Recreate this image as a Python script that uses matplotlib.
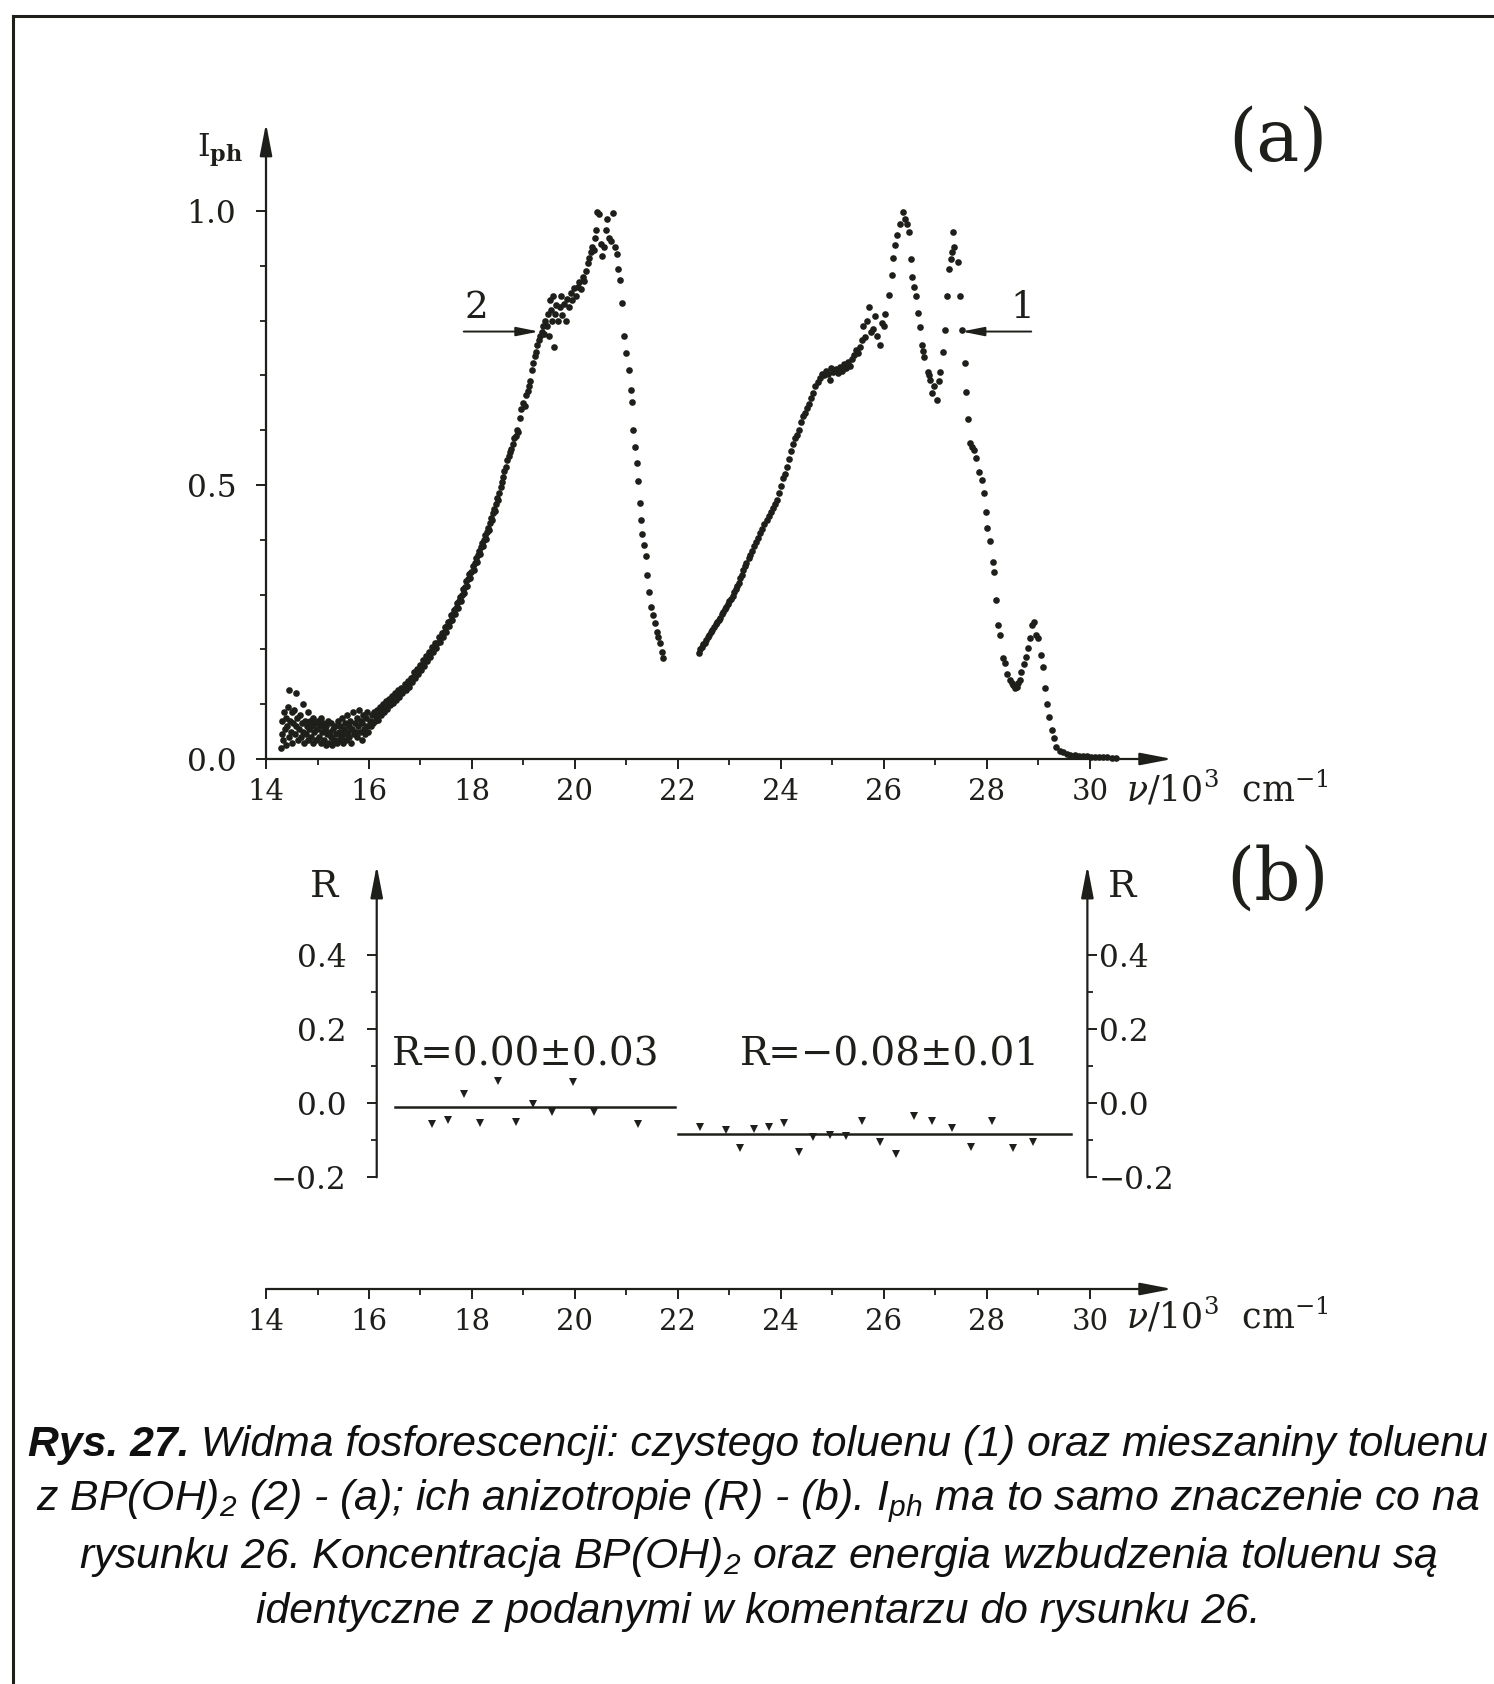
import matplotlib
matplotlib.use('Agg')
import matplotlib.pyplot as plt
from matplotlib.lines import Line2D
from matplotlib.ticker import FixedLocator

plt.rcParams['font.family'] = 'DejaVu Serif'
plt.rcParams['mathtext.fontset'] = 'custom'
plt.rcParams['mathtext.rm'] = 'Liberation Sans:italic'
plt.rcParams['mathtext.it'] = 'Liberation Sans:italic'
plt.rcParams['mathtext.bf'] = 'Liberation Sans:bold:italic'

INK = '#1e1e1a'

# ---- panel (a): phosphorescence spectra ----
# curve 2 : toluene + BP(OH)2
c2_x = [14.30, 14.31, 14.32, 14.33, 14.35, 14.36, 14.38, 14.39, 14.41, 14.42, 14.44, 14.45, 14.47, 14.48, 14.50,
        14.51, 14.53, 14.55, 14.56, 14.58, 14.59, 14.61, 14.62, 14.64, 14.66, 14.67, 14.69, 14.71, 14.72, 14.74,
        14.76, 14.77, 14.79, 14.81, 14.82, 14.84, 14.86, 14.87, 14.89, 14.91, 14.92, 14.94, 14.96, 14.97, 14.99,
        15.01, 15.02, 15.04, 15.06, 15.07, 15.09, 15.11, 15.12, 15.14, 15.16, 15.17, 15.19, 15.21, 15.22, 15.24,
        15.26, 15.27, 15.29, 15.31, 15.32, 15.34, 15.36, 15.37, 15.39, 15.41, 15.42, 15.44, 15.46, 15.47, 15.49,
        15.51, 15.52, 15.54, 15.56, 15.57, 15.59, 15.61, 15.62, 15.64, 15.66, 15.67, 15.69, 15.71, 15.72, 15.74,
        15.76, 15.77, 15.79, 15.81, 15.82, 15.84, 15.86, 15.87, 15.89, 15.91, 15.92, 15.94, 15.96, 15.97, 15.99,
        16.01, 16.03, 16.05, 16.07, 16.09, 16.11, 16.13, 16.15, 16.17, 16.19, 16.21, 16.23, 16.25, 16.27, 16.29,
        16.31, 16.33, 16.35, 16.37, 16.39, 16.41, 16.43, 16.45, 16.47, 16.49, 16.51, 16.53, 16.55, 16.57, 16.59,
        16.61, 16.63, 16.65, 16.67, 16.69, 16.71, 16.73, 16.75, 16.77, 16.79, 16.81, 16.83, 16.85, 16.87, 16.89,
        16.91, 16.93, 16.95, 16.97, 16.99, 17.01, 17.03, 17.05, 17.07, 17.09, 17.11, 17.13, 17.15, 17.17, 17.19,
        17.21, 17.23, 17.25, 17.27, 17.29, 17.31, 17.33, 17.35, 17.37, 17.39, 17.41, 17.43, 17.45, 17.47, 17.49,
        17.51, 17.53, 17.55, 17.57, 17.59, 17.61, 17.63, 17.65, 17.67, 17.69, 17.71, 17.73, 17.75, 17.77, 17.79,
        17.81, 17.83, 17.85, 17.87, 17.89, 17.91, 17.93, 17.95, 17.97, 17.99, 18.01, 18.03, 18.05, 18.07, 18.09,
        18.11, 18.13, 18.15, 18.17, 18.19, 18.21, 18.23, 18.25, 18.27, 18.29, 18.31, 18.33, 18.35, 18.37, 18.39,
        18.41, 18.43, 18.45, 18.47, 18.49, 18.51, 18.53, 18.56, 18.58, 18.61, 18.63, 18.66, 18.68, 18.71, 18.73,
        18.76, 18.79, 18.82, 18.85, 18.88, 18.90, 18.93, 18.96, 18.99, 19.02, 19.05, 19.08, 19.11, 19.13, 19.16,
        19.19, 19.22, 19.25, 19.27, 19.30, 19.33, 19.35, 19.38, 19.40, 19.42, 19.45, 19.47, 19.49, 19.51, 19.53,
        19.55, 19.58, 19.60, 19.62, 19.64, 19.67, 19.70, 19.72, 19.75, 19.78, 19.82, 19.85, 19.88, 19.92, 19.95,
        19.98, 20.02, 20.05, 20.08, 20.12, 20.15, 20.18, 20.22, 20.25, 20.28, 20.31, 20.34, 20.37, 20.39, 20.41,
        20.43, 20.46, 20.50, 20.53, 20.56, 20.60, 20.63, 20.66, 20.70, 20.74, 20.77, 20.81, 20.84, 20.87, 20.91,
        20.95, 21.00, 21.04, 21.08, 21.10, 21.13, 21.17, 21.20, 21.23, 21.26, 21.28, 21.31, 21.34, 21.37, 21.39,
        21.43, 21.48, 21.52, 21.55, 21.59, 21.62, 21.65, 21.68, 21.70]
c2_y = [0.020, 0.045, 0.070, 0.035, 0.085, 0.055, 0.025, 0.075, 0.060, 0.095, 0.125, 0.040, 0.070, 0.050, 0.085,
        0.030, 0.065, 0.090, 0.045, 0.120, 0.060, 0.075, 0.035, 0.055, 0.080, 0.040, 0.065, 0.100, 0.050, 0.030,
        0.070, 0.045, 0.060, 0.085, 0.035, 0.055, 0.070, 0.040, 0.060, 0.030, 0.075, 0.050, 0.065, 0.035, 0.055,
        0.070, 0.040, 0.060, 0.030, 0.075, 0.050, 0.065, 0.035, 0.055, 0.025, 0.060, 0.045, 0.070, 0.030, 0.050,
        0.040, 0.065, 0.025, 0.055, 0.035, 0.060, 0.045, 0.030, 0.070, 0.050, 0.035, 0.060, 0.040, 0.075, 0.030,
        0.055, 0.045, 0.065, 0.035, 0.080, 0.050, 0.060, 0.040, 0.070, 0.030, 0.055, 0.085, 0.045, 0.065, 0.050,
        0.075, 0.040, 0.060, 0.090, 0.050, 0.070, 0.035, 0.065, 0.080, 0.055, 0.045, 0.075, 0.060, 0.085, 0.050,
        0.070, 0.060, 0.080, 0.065, 0.085, 0.070, 0.078, 0.090, 0.072, 0.085, 0.095, 0.080, 0.090, 0.100, 0.085,
        0.095, 0.105, 0.092, 0.100, 0.110, 0.098, 0.105, 0.115, 0.102, 0.110, 0.120, 0.108, 0.116, 0.125, 0.114,
        0.122, 0.130, 0.120, 0.128, 0.136, 0.126, 0.134, 0.142, 0.132, 0.140, 0.148, 0.140, 0.150, 0.158, 0.148,
        0.156, 0.165, 0.155, 0.164, 0.172, 0.162, 0.172, 0.180, 0.170, 0.178, 0.188, 0.178, 0.186, 0.196, 0.186,
        0.195, 0.204, 0.195, 0.204, 0.212, 0.203, 0.212, 0.222, 0.213, 0.222, 0.230, 0.222, 0.232, 0.240, 0.232,
        0.242, 0.250, 0.242, 0.252, 0.262, 0.254, 0.264, 0.272, 0.264, 0.275, 0.284, 0.276, 0.288, 0.296, 0.288,
        0.300, 0.310, 0.302, 0.314, 0.324, 0.316, 0.328, 0.338, 0.330, 0.342, 0.352, 0.345, 0.358, 0.366, 0.360,
        0.372, 0.380, 0.374, 0.386, 0.394, 0.388, 0.400, 0.408, 0.402, 0.414, 0.422, 0.418, 0.430, 0.440, 0.436,
        0.448, 0.456, 0.452, 0.466, 0.476, 0.472, 0.486, 0.496, 0.505, 0.515, 0.525, 0.532, 0.545, 0.552, 0.560,
        0.565, 0.575, 0.585, 0.590, 0.600, 0.596, 0.622, 0.638, 0.650, 0.645, 0.665, 0.672, 0.680, 0.690, 0.710,
        0.722, 0.735, 0.742, 0.755, 0.765, 0.772, 0.780, 0.790, 0.776, 0.800, 0.790, 0.812, 0.772, 0.838, 0.820,
        0.800, 0.845, 0.752, 0.812, 0.828, 0.800, 0.825, 0.845, 0.810, 0.830, 0.800, 0.840, 0.825, 0.850, 0.838,
        0.860, 0.845, 0.862, 0.870, 0.858, 0.880, 0.872, 0.890, 0.905, 0.915, 0.925, 0.935, 0.928, 0.950, 0.965,
        0.999, 0.995, 0.940, 0.918, 0.935, 0.965, 0.985, 0.950, 0.945, 0.996, 0.935, 0.922, 0.895, 0.874, 0.832,
        0.771, 0.740, 0.710, 0.673, 0.652, 0.600, 0.570, 0.540, 0.507, 0.467, 0.436, 0.410, 0.390, 0.370, 0.336,
        0.305, 0.278, 0.262, 0.248, 0.232, 0.222, 0.211, 0.196, 0.184]

# curve 1 : pure toluene
c1_x = [22.40, 22.43, 22.46, 22.49, 22.52, 22.55, 22.58, 22.61, 22.64, 22.67, 22.70, 22.73, 22.76, 22.79, 22.82,
        22.85, 22.88, 22.91, 22.94, 22.97, 23.00, 23.03, 23.06, 23.09, 23.12, 23.15, 23.18, 23.21, 23.24, 23.27,
        23.30, 23.33, 23.37, 23.40, 23.44, 23.48, 23.52, 23.56, 23.60, 23.64, 23.68, 23.72, 23.76, 23.80, 23.84,
        23.88, 23.92, 23.96, 24.00, 24.04, 24.08, 24.12, 24.16, 24.19, 24.23, 24.27, 24.31, 24.35, 24.39, 24.43,
        24.47, 24.51, 24.55, 24.59, 24.63, 24.67, 24.71, 24.75, 24.79, 24.83, 24.87, 24.91, 24.95, 24.98, 25.02,
        25.06, 25.10, 25.14, 25.18, 25.22, 25.26, 25.30, 25.34, 25.38, 25.42, 25.46, 25.50, 25.54, 25.58, 25.60,
        25.64, 25.68, 25.70, 25.74, 25.79, 25.83, 25.87, 25.92, 25.96, 26.00, 26.02, 26.10, 26.15, 26.18, 26.21,
        26.26, 26.31, 26.37, 26.40, 26.44, 26.49, 26.52, 26.55, 26.59, 26.62, 26.66, 26.70, 26.73, 26.76, 26.78,
        26.85, 26.88, 26.89, 26.94, 26.98, 27.03, 27.06, 27.09, 27.14, 27.18, 27.22, 27.26, 27.31, 27.33, 27.36,
        27.35, 27.44, 27.48, 27.51, 27.57, 27.59, 27.64, 27.68, 27.71, 27.74, 27.78, 27.85, 27.90, 27.94, 27.98,
        28.01, 28.06, 28.11, 28.14, 28.18, 28.21, 28.26, 28.32, 28.35, 28.39, 28.44, 28.48, 28.51, 28.55, 28.58,
        28.61, 28.64, 28.67, 28.71, 28.76, 28.80, 28.84, 28.87, 28.91, 28.96, 29.00, 29.05, 29.08, 29.13, 29.17,
        29.21, 29.26, 29.30, 29.35, 29.42, 29.48, 29.55, 29.62, 29.70, 29.78, 29.86, 29.94, 30.02, 30.10, 30.18,
        30.26, 30.34, 30.42, 30.50]
c1_y = [0.193, 0.200, 0.205, 0.210, 0.212, 0.218, 0.222, 0.226, 0.232, 0.236, 0.240, 0.246, 0.250, 0.254, 0.258,
        0.264, 0.268, 0.273, 0.278, 0.282, 0.288, 0.292, 0.298, 0.304, 0.310, 0.316, 0.322, 0.330, 0.336, 0.345,
        0.352, 0.358, 0.366, 0.372, 0.380, 0.388, 0.396, 0.404, 0.412, 0.420, 0.428, 0.436, 0.443, 0.450, 0.458,
        0.465, 0.472, 0.485, 0.498, 0.512, 0.520, 0.533, 0.548, 0.562, 0.575, 0.585, 0.592, 0.600, 0.615, 0.625,
        0.632, 0.640, 0.648, 0.658, 0.668, 0.680, 0.688, 0.695, 0.702, 0.700, 0.708, 0.702, 0.692, 0.713, 0.706,
        0.712, 0.704, 0.716, 0.708, 0.720, 0.714, 0.724, 0.718, 0.730, 0.738, 0.746, 0.740, 0.752, 0.765, 0.790,
        0.770, 0.800, 0.825, 0.780, 0.785, 0.808, 0.772, 0.756, 0.795, 0.790, 0.812, 0.847, 0.883, 0.914, 0.938,
        0.956, 0.977, 0.999, 0.985, 0.977, 0.962, 0.912, 0.880, 0.862, 0.844, 0.813, 0.789, 0.755, 0.745, 0.734,
        0.707, 0.700, 0.691, 0.667, 0.680, 0.656, 0.690, 0.707, 0.743, 0.783, 0.845, 0.895, 0.913, 0.925, 0.935,
        0.962, 0.907, 0.845, 0.783, 0.722, 0.670, 0.621, 0.576, 0.570, 0.563, 0.549, 0.524, 0.509, 0.485, 0.451,
        0.421, 0.397, 0.360, 0.342, 0.290, 0.245, 0.226, 0.184, 0.176, 0.156, 0.145, 0.138, 0.135, 0.130, 0.132,
        0.138, 0.145, 0.159, 0.174, 0.186, 0.202, 0.220, 0.245, 0.250, 0.226, 0.220, 0.190, 0.168, 0.129, 0.101,
        0.077, 0.053, 0.038, 0.022, 0.015, 0.012, 0.010, 0.008, 0.007, 0.006, 0.005, 0.005, 0.004, 0.004, 0.003,
        0.003, 0.003, 0.002, 0.002]

# ---- panel (b): anisotropy R ----
r2_x = [17.22, 17.53, 17.85, 18.16, 18.50, 18.85, 19.19, 19.56, 19.97, 20.37, 21.23]
r2_y = [-0.056, -0.045, 0.024, -0.054, 0.061, -0.050, -0.002, -0.023, 0.058, -0.023, -0.056]
r1_x = [22.43, 22.93, 23.21, 23.48, 23.77, 24.06, 24.35, 24.63, 24.95, 25.26, 25.58, 25.92, 26.23, 26.59,
        26.93, 27.33, 27.69, 28.09, 28.50, 28.90]
r1_y = [-0.065, -0.072, -0.120, -0.070, -0.063, -0.052, -0.131, -0.092, -0.086, -0.089, -0.047, -0.105,
        -0.136, -0.033, -0.047, -0.068, -0.119, -0.049, -0.121, -0.105]
# mean R levels: (x from, x to, R)
r2_mean = (16.50, 21.95, -0.010)
r1_mean = (22.00, 29.63, -0.083)

x_major = [14, 16, 18, 20, 22, 24, 26, 28, 30]
x_minor = [15, 17, 19, 21, 23, 25, 27, 29]
ia_major = [0.0, 0.5, 1.0]
ia_labels = ['0.0', '0.5', '1.0']
ia_minor = [0.1, 0.2, 0.3, 0.4, 0.6, 0.7, 0.8, 0.9]
r_major = [-0.2, 0.0, 0.2, 0.4]
r_labels = ['\u22120.2', '0.0', '0.2', '0.4']
r_minor = [-0.1, 0.1, 0.3]

caption_head = 'Rys. 27.'
caption = [
    ' Widma fosforescencji: czystego toluenu (1) oraz mieszaniny toluenu',
    r'z BP(OH)$_2$ (2) - (a); ich anizotropie (R) - (b). I$_{ph}$ ma to samo znaczenie co na',
    r'rysunku 26. Koncentracja BP(OH)$_2$ oraz energia wzbudzenia toluenu są',
    'identyczne z podanymi w komentarzu do rysunku 26.',
]


def arrow_line(ax, start, end, lw=1.6, hl=1.3, hw=0.25):
    ax.annotate('', xy=end, xytext=start, xycoords='data', annotation_clip=False,
                arrowprops=dict(arrowstyle='-|>,head_length=%s,head_width=%s' % (hl, hw),
                                color=INK, lw=lw, shrinkA=0, shrinkB=0, mutation_scale=15))


def style_ticks(ax):
    ax.tick_params(which='major', direction='out', length=7.5, width=1.4, colors=INK, labelsize=21)
    ax.tick_params(which='minor', direction='out', length=4.5, width=1.3, colors=INK)
    ax.tick_params(axis='y', which='major', labelsize=22.5)


fig = plt.figure(figsize=(14.94, 16.84), dpi=100)

# frame round the figure
fig.add_artist(Line2D([0.0087, 0.0087], [0.0, 0.9905], color=INK, lw=2.2, transform=fig.transFigure))
fig.add_artist(Line2D([0.0087, 1.0], [0.9905, 0.9905], color=INK, lw=2.2, transform=fig.transFigure))

# ---------------- panel (a)
ax_a = fig.add_axes([0.17805, 0.54929, 0.6101, 0.38074])
ax_a.set_xlim(14, 31.7)
ax_a.set_ylim(0, 1.17)
for s in ax_a.spines.values():
    s.set_visible(False)
ax_a.scatter(c2_x, c2_y, s=23, color=INK, linewidths=0, clip_on=False)
ax_a.scatter(c1_x, c1_y, s=23, color=INK, linewidths=0, clip_on=False)
arrow_line(ax_a, (14, 0), (31.6, 0))
arrow_line(ax_a, (14, 0), (14, 1.16))
ax_a.xaxis.set_major_locator(FixedLocator(x_major))
ax_a.xaxis.set_minor_locator(FixedLocator(x_minor))
ax_a.set_xticklabels([str(v) for v in x_major])
ax_a.yaxis.set_major_locator(FixedLocator(ia_major))
ax_a.yaxis.set_minor_locator(FixedLocator(ia_minor))
ax_a.set_yticklabels(ia_labels)
style_ticks(ax_a)
ax_a.tick_params(axis='y', which='major', pad=14)
ax_a.tick_params(axis='x', which='major', pad=6)

# curve labels
arrow_line(ax_a, (17.84, 0.78), (19.30, 0.78), lw=1.4, hl=0.9, hw=0.18)
arrow_line(ax_a, (28.86, 0.78), (27.51, 0.78), lw=1.4, hl=0.9, hw=0.18)
ax_a.text(18.08, 0.823, '2', fontsize=27, color=INK, ha='center', va='center')
ax_a.text(28.69, 0.823, '1', fontsize=27, color=INK, ha='center', va='center')

# ---------------- panel (b)
ax_b = fig.add_axes([0.17805, 0.30089, 0.6101, 0.18896])
ax_b.set_xlim(14, 31.7)
ax_b.set_ylim(-0.2, 0.66)
for s in ax_b.spines.values():
    s.set_visible(False)
ax_b.spines['left'].set_position(('data', 16.15))
ax_b.xaxis.set_visible(False)
ax_b.plot([r2_mean[0], r2_mean[1]], [r2_mean[2], r2_mean[2]], color=INK, lw=1.8)
ax_b.plot([r1_mean[0], r1_mean[1]], [r1_mean[2], r1_mean[2]], color=INK, lw=1.8)
ax_b.plot(r2_x, r2_y, 'v', ms=5.5, color=INK, mew=0)
ax_b.plot(r1_x, r1_y, 'v', ms=5.5, color=INK, mew=0)
arrow_line(ax_b, (16.15, -0.2), (16.15, 0.643))
arrow_line(ax_b, (29.95, -0.2), (29.95, 0.643))
ax_b.yaxis.set_major_locator(FixedLocator(r_major))
ax_b.yaxis.set_minor_locator(FixedLocator(r_minor))
ax_b.set_yticklabels(r_labels)
style_ticks(ax_b)
ax_b.tick_params(axis='y', which='major', pad=14)

ax_r = ax_b.twinx()
ax_r.set_ylim(-0.2, 0.66)
for s in ax_r.spines.values():
    s.set_visible(False)
ax_r.spines['right'].set_position(('data', 29.95))
ax_r.yaxis.set_major_locator(FixedLocator(r_major))
ax_r.yaxis.set_minor_locator(FixedLocator(r_minor))
ax_r.set_yticklabels(r_labels)
style_ticks(ax_r)
ax_r.tick_params(axis='y', which='major', pad=1)

# ---------------- shared wavenumber axis below (b)
ax_c = fig.add_axes([0.17805, 0.23456, 0.6101, 0.02])
ax_c.set_xlim(14, 31.7)
ax_c.set_ylim(0, 1)
for s in ax_c.spines.values():
    s.set_visible(False)
ax_c.yaxis.set_visible(False)
arrow_line(ax_c, (14, 0), (31.6, 0))
ax_c.xaxis.set_major_locator(FixedLocator(x_major))
ax_c.xaxis.set_minor_locator(FixedLocator(x_minor))
ax_c.set_xticklabels([str(v) for v in x_major])
style_ticks(ax_c)
ax_c.tick_params(axis='x', which='major', pad=6)

# ---------------- texts
xlab = r'$\nu/10^{3}\ \ \mathrm{cm}^{-1}$'
fig.text(0.7537, 0.5315, xlab, fontsize=25, color=INK, ha='left', va='center', math_fontfamily='dejavuserif')
fig.text(0.7537, 0.2185, xlab, fontsize=25, color=INK, ha='left', va='center', math_fontfamily='dejavuserif')
fig.text(0.1473, 0.9109, r'$\mathrm{I}_{\mathbf{ph}}$', fontsize=23, color=INK, ha='center', va='center',
         math_fontfamily='dejavuserif')
fig.text(0.8554, 0.9169, '(a)', fontsize=52, color=INK, ha='center', va='center')
fig.text(0.8554, 0.4780, '(b)', fontsize=52, color=INK, ha='center', va='center')
fig.text(0.2169, 0.4733, 'R', fontsize=27, color=INK, ha='center', va='center')
fig.text(0.7510, 0.4733, 'R', fontsize=27, color=INK, ha='center', va='center')
fig.text(0.3517, 0.3735, 'R=0.00\u00b10.03', fontsize=28, color=INK, ha='center', va='center')
fig.text(0.5957, 0.3735, 'R=\u22120.08\u00b10.01', fontsize=28, color=INK, ha='center', va='center')

# caption: first line has a bold head, so it is laid out from two pieces
cap_kw = dict(fontsize=30.8, color='#101010', va='center', family='Liberation Sans', style='italic')
cap_y = [0.1419, 0.1087, 0.0754, 0.0428]
renderer = fig.canvas.get_renderer()
head = fig.text(0, cap_y[0], caption_head, weight='bold', ha='left', **cap_kw)
rest = fig.text(0, cap_y[0], caption[0], ha='left', **cap_kw)
w_head = head.get_window_extent(renderer).width / fig.bbox.width
w_rest = rest.get_window_extent(renderer).width / fig.bbox.width
x0 = 0.5074 - (w_head + w_rest) / 2
head.set_x(x0)
rest.set_x(x0 + w_head)
for line, yy in zip(caption[1:], cap_y[1:]):
    fig.text(0.5074, yy, line, ha='center', **cap_kw)

fig.savefig('out.png', dpi=100, facecolor='white')
